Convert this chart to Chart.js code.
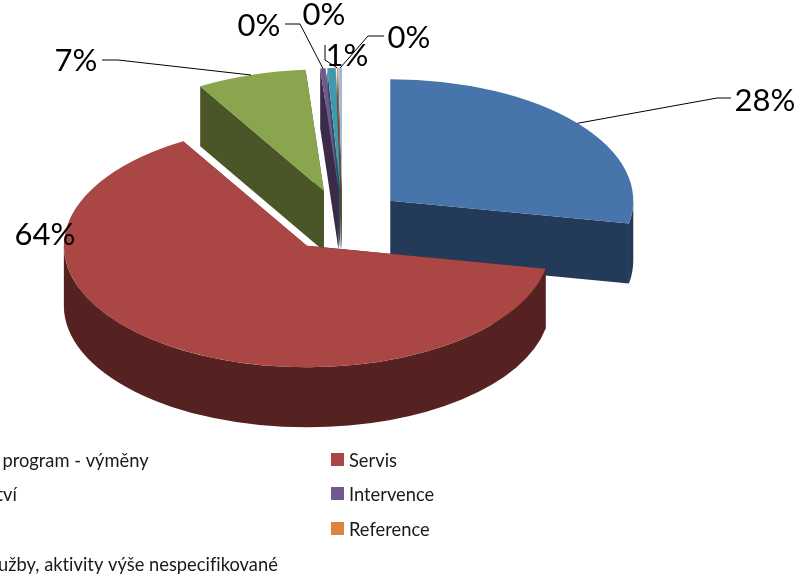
<!DOCTYPE html>
<html>
<head>
<meta charset="utf-8">
<script src="https://cdn.jsdelivr.net/npm/chart.js@4"></script>
<style>
  html, body { margin: 0; padding: 0; background: #fff; overflow: hidden; }
  canvas { display: block; }
</style>
</head>
<body>
<canvas id="chart" width="810" height="580"></canvas>
<script>
// Data
const categories = [
    'Výměnný program - výměny', 'Servis', 'Poradenství', 'Intervence',
    'Projekty', 'Reference', 'Ostatní služby, aktivity výše nespecifikované'
];
const values = [28, 63.5, 7.3, 0.35, 0.55, 0.05, 0.25];

// Colours
const topColors = ['#4674ab', '#aa4644', '#89a54e', '#71588f', '#4198af', '#db843d', '#a5b8d9'];
const wallColors = ['#233a58', '#552221', '#4a5627', '#3a2c49', '#205868', '#6e421e', '#525c6c'];

// Layout of the labels around the pie, same order as the slices
const labelSpots = [
    { x: 765, y: 101, elbow: [[731, 98], [717, 98]] },
    { x: 45, y: 235, elbow: null },
    { x: 76, y: 61, elbow: [[102, 60], [118, 60]] },
    { x: 259, y: 26, elbow: [[285, 24], [300, 24]] },
    { x: 347, y: 56, elbow: null },
    { x: 324, y: 15, elbow: [[325, 45], [325, 60]] },
    { x: 409, y: 38, elbow: [[384, 36], [368, 36]] }
];

const squash = 0.5;     // ellipse height / width
const depth = 60;       // wall height
const explode = 62;     // slice pull-out
const labelFont = "31px Lato, sans-serif";
const legendFont = "18.3px Lato, sans-serif";

function sliceCentre(arc) {
    const mid = (arc.startAngle + arc.endAngle) / 2;
    return {
        mid: mid,
        x: arc.x + Math.cos(mid) * explode,
        y: arc.y + Math.sin(mid) * explode * squash
    };
}

// cut faces and the front of the rim, filled piece by piece
function drawWall(ctx, arc, c) {
    const rx = arc.outerRadius;
    const ry = arc.outerRadius * squash;

    [arc.startAngle, arc.endAngle].forEach(a => {
        const px = c.x + Math.cos(a) * rx;
        const py = c.y + Math.sin(a) * ry;
        ctx.beginPath();
        ctx.moveTo(c.x, c.y);
        ctx.lineTo(px, py);
        ctx.lineTo(px, py + depth);
        ctx.lineTo(c.x, c.y + depth);
        ctx.closePath();
        ctx.fill();
    });

    // rim, only the part that faces the viewer
    const lo = Math.max(arc.startAngle, 0);
    const hi = Math.min(arc.endAngle, Math.PI);
    if (hi > lo) {
        ctx.beginPath();
        ctx.ellipse(c.x, c.y, rx, ry, 0, lo, hi);
        ctx.ellipse(c.x, c.y + depth, rx, ry, 0, hi, lo, true);
        ctx.closePath();
        ctx.fill();
    }
}

const pie3d = {
    id: 'pie3d',
    // draws the arcs itself, back to front, so the walls overlap correctly
    beforeDatasetDraw(chart, args) {
        const ctx = chart.ctx;
        const order = args.meta.data.map((arc, i) => ({ arc, i, c: sliceCentre(arc) }));
        order.sort((a, b) => a.c.y - b.c.y);

        order.forEach(({ arc, i, c }) => {
            ctx.fillStyle = wallColors[i];
            drawWall(ctx, arc, c);
            // top face is the library's own arc, moved and flattened
            ctx.save();
            ctx.translate(c.x, c.y);
            ctx.scale(1, squash);
            ctx.translate(-arc.x, -arc.y);
            arc.draw(ctx);
            ctx.restore();
        });
        return false;
    },
    afterDraw(chart) {
        const ctx = chart.ctx;
        const arcs = chart.getDatasetMeta(0).data;
        const total = values.reduce((a, b) => a + b, 0);

        // leader lines
        ctx.strokeStyle = '#000';
        ctx.lineWidth = 1;
        labelSpots.forEach((spot, i) => {
            if (!spot.elbow) return;
            const c = sliceCentre(arcs[i]);
            ctx.beginPath();
            ctx.moveTo(spot.elbow[0][0], spot.elbow[0][1]);
            ctx.lineTo(spot.elbow[1][0], spot.elbow[1][1]);
            ctx.lineTo(c.x + Math.cos(c.mid) * arcs[i].outerRadius,
                       c.y + Math.sin(c.mid) * arcs[i].outerRadius * squash);
            ctx.stroke();
        });

        // no ti ligature in the legend or labels
        ctx.letterSpacing = '0.01px';

        // percent labels
        ctx.fillStyle = '#000';
        ctx.font = labelFont;
        ctx.textAlign = 'center';
        ctx.textBaseline = 'middle';
        labelSpots.forEach((spot, i) => {
            ctx.fillText(Math.round(values[i] / total * 100) + '%', spot.x, spot.y);
        });

        // legend, two columns, the left one runs off the canvas
        ctx.font = legendFont;
        ctx.textAlign = 'left';
        categories.forEach((name, i) => {
            const col = i % 2;
            const row = Math.floor(i / 2);
            const left = col === 0 ? -96 : 331;
            const y = [460, 494, 529, 564][row];
            ctx.fillStyle = topColors[i];
            ctx.fillRect(left, y - 7, 13, 13);
            ctx.fillStyle = '#1a1a1a';
            ctx.fillText(name, left + 18, y + 1);
        });
    }
};

new Chart(document.getElementById('chart'), {
    type: 'pie',
    data: {
        labels: categories,
        datasets: [{
            data: values,
            backgroundColor: topColors,
            borderWidth: 0,
            radius: 243,
            clip: false
        }]
    },
    options: {
        responsive: false,
        animation: false,
        layout: { padding: { left: 0, top: 0, right: 125, bottom: 139 } },
        plugins: {
            legend: { display: false },
            tooltip: { enabled: false }
        }
    },
    plugins: [pie3d]
});
</script>
</body>
</html>
